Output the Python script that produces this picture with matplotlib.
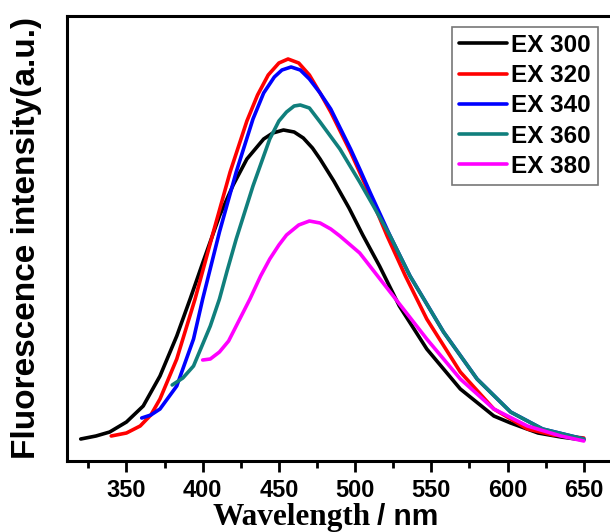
import matplotlib
matplotlib.use("Agg")
import matplotlib.pyplot as plt

# wavelength (nm) and intensity (a.u.)
ex300_x = [320, 330, 339, 350, 361, 372, 383, 392, 400, 411, 420, 429, 440, 446, 453, 460, 466, 472, 477, 486, 496, 501, 505, 516, 529, 547, 569, 591, 602, 620, 635, 650]
ex300_y = [22, 25, 29, 39, 55, 85, 125, 163, 198, 245, 276, 302, 322, 328, 331, 329, 323, 313, 302, 280, 253, 238, 226, 195, 155, 112, 72, 45, 38, 28, 24, 21]

ex320_x = [340, 350, 359, 366, 372, 383, 395, 407, 418, 429, 436, 443, 450, 456, 463, 470, 477, 484, 497, 510, 521, 533, 547, 569, 591, 613, 630, 650]
ex320_y = [25, 28, 35, 46, 62, 102, 162, 229, 289, 340, 366, 386, 398, 402, 398, 386, 368, 349, 309, 265, 225, 185, 142, 89, 52, 32, 26, 23]

ex340_x = [360, 366, 372, 383, 394, 400, 411, 422, 433, 440, 447, 452, 458, 464, 470, 477, 484, 497, 503, 510, 523, 536, 558, 580, 602, 623, 650]
ex340_y = [43, 46, 52, 75, 122, 162, 229, 289, 342, 368, 384, 391, 394, 391, 382, 368, 352, 312, 292, 268, 225, 185, 129, 82, 49, 32, 22]

ex360_x = [380, 387, 394, 405, 411, 416, 422, 433, 444, 450, 455, 460, 464, 470, 477, 490, 503, 512, 523, 536, 558, 580, 602, 623, 650]
ex360_y = [76, 83, 95, 135, 162, 190, 222, 275, 322, 340, 349, 355, 356, 353, 339, 312, 279, 255, 225, 185, 129, 82, 49, 32, 22]

ex380_x = [400, 405, 411, 417, 422, 431, 438, 444, 450, 455, 463, 470, 477, 484, 490, 503, 525, 547, 569, 591, 613, 635, 650]
ex380_y = [101, 102, 109, 120, 135, 162, 185, 202, 216, 226, 236, 240, 238, 232, 225, 208, 165, 122, 82, 52, 35, 25, 20]

labels = ["EX 300", "EX 320", "EX 340", "EX 360", "EX 380"]
colors = ["black", "#ff0000", "#0000ff", "#107f7c", "#ff00ff"]
major_ticks = [350, 400, 450, 500, 550, 600, 650]
minor_ticks = [325, 375, 425, 475, 525, 575, 625]

fig = plt.figure(figsize=(6.1, 5.32), dpi=100)
ax = fig.add_axes([67 / 610, 1 - 461 / 532, (612 - 67) / 610, (461 - 16) / 532])

series = [(ex300_x, ex300_y), (ex320_x, ex320_y), (ex340_x, ex340_y),
          (ex360_x, ex360_y), (ex380_x, ex380_y)]
for (xs, ys), lab, c in zip(series, labels, colors):
    ax.plot(xs, ys, color=c, lw=2.6, label=lab,
            solid_capstyle="round", solid_joinstyle="round")

ax.set_xlim(311, 668.5)
ax.set_ylim(0, 445)
ax.set_yticks([])
ax.set_xticks(major_ticks)
ax.set_xticks(minor_ticks, minor=True)
ax.tick_params(axis="x", which="major", direction="out", length=8, width=2, pad=5)
ax.tick_params(axis="x", which="minor", direction="out", length=5, width=2)
for lb in ax.get_xticklabels():
    lb.set_fontfamily("Liberation Sans")
    lb.set_fontweight("bold")
    lb.set_fontsize(17)
for sp in ax.spines.values():
    sp.set_linewidth(2.2)

leg = ax.legend(loc="upper right", bbox_to_anchor=(598 / 610, 1 - 26.5 / 532),
                bbox_transform=fig.transFigure, borderaxespad=0,
                prop={"family": "Liberation Sans", "weight": "bold", "size": 17.5},
                handlelength=2.0, handletextpad=0.15, labelspacing=0.3,
                borderpad=0.3, fancybox=False, framealpha=1)
leg.get_frame().set_edgecolor("#777777")
leg.get_frame().set_linewidth(1.2)

fig.text(27 / 610, 1 - 238 / 532, "Fluorescence intensity(a.u.)", rotation=90,
         ha="center", va="center", fontsize=24, fontweight="bold",
         family="Liberation Sans")
fig.text(371 / 610, 1 - 525 / 532, "Wavelength", ha="right", va="baseline",
         fontsize=22.5, fontweight="bold", family="Liberation Serif")
fig.text(377 / 610, 1 - 525 / 532, "/ nm", ha="left", va="baseline",
         fontsize=21.5, fontweight="bold", family="Liberation Sans")

fig.savefig("out.png", dpi=100)
